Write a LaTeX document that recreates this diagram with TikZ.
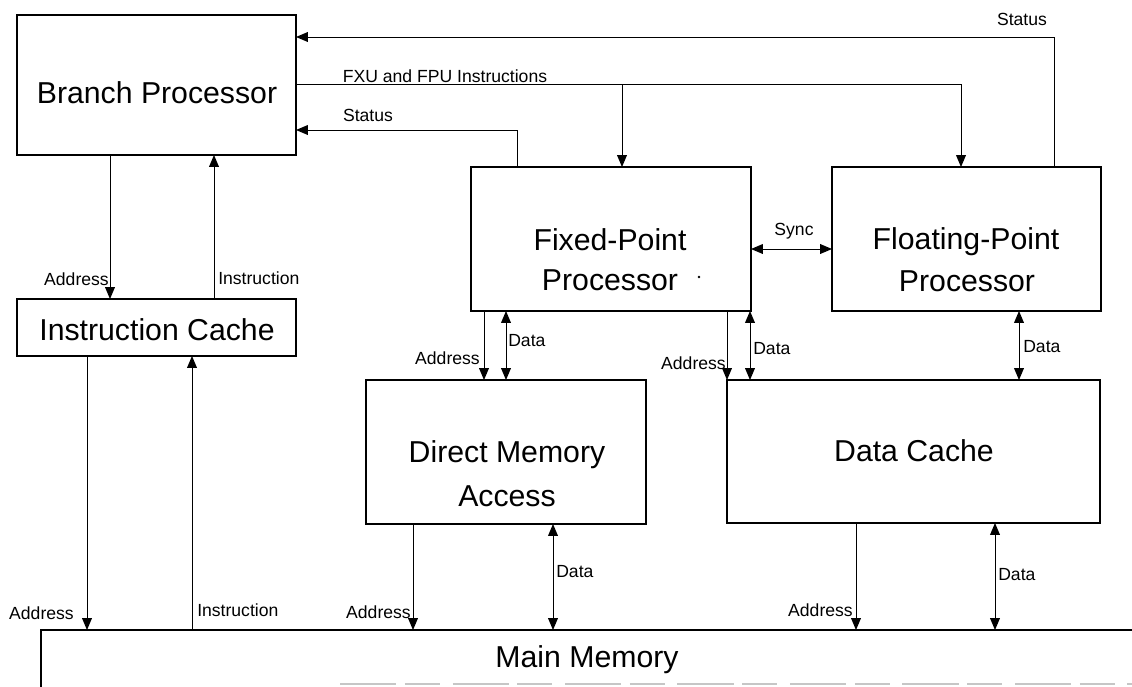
\documentclass[tikz,border=0pt]{standalone}
\usepackage{fontspec}
\setmainfont{Liberation Sans}
\usetikzlibrary{arrows.meta,fit}

\begin{document}
\begin{tikzpicture}[x=0.025cm,y=-0.025cm,
  unit/.style={draw,line width=1.2pt,inner sep=0pt,outer sep=0pt},
  title/.style={font=\fontsize{21.5}{26}\selectfont,anchor=base,inner sep=0pt},
  lbl/.style={font=\fontsize{12.5}{15}\selectfont,inner sep=0pt},
  wire/.style={line width=0.7pt},
  tip/.tip={Triangle[length=8.5pt,width=7pt]},
  arr/.style={wire,-tip},
  barr/.style={wire,tip-tip},
]
\useasboundingbox (0,0) rectangle (1132,686);
\clip (0,0) rectangle (1132,686);

% functional units
\node[unit,fit={(17,15) (296,155)}] (bp) {};
\node[unit,fit={(17,299) (296,356)}] (ic) {};
\node[unit,fit={(471,167) (751,311)}] (fxp) {};
\node[unit,fit={(832,167) (1101,311)}] (fpp) {};
\node[unit,fit={(366,380) (646,524)}] (dma) {};
\node[unit,fit={(727,380) (1100,523)}] (dc) {};
\node[unit,fit={(41,630) (1170,730)}] (mm) {};
\draw[gray!45,line width=0.8pt,dash pattern=on 40pt off 6pt on 25pt off 9pt] (340,684) -- (1132,684);

% unit names
\node[title] (bpt) at (157,103) {Branch Processor};
\node[title] (ict) at (157,340) {Instruction Cache};
\node[title] (fxpt1) at (610,250) {Fixed-Point};
\node[title] (fxpt2) at (610,290) {Processor};
\fill (699,277) circle (1.4);
\node[title] (fppt1) at (966,249) {Floating-Point};
\node[title] (fppt2) at (967,291) {Processor};
\node[title] (dmat1) at (507,462) {Direct Memory};
\node[title] (dmat2) at (507,506) {Access};
\node[title] (dct) at (914,461) {Data Cache};
\node[title] (mmt) at (587,667) {Main Memory};

% instruction dispatch and status feedback
\draw[arr] (1054,0 |- fpp.north) |- (bp.east |- 0,37);
\coordinate (tap) at (622,84);
\draw[arr] (bp.east |- 0,84) -| (961,0 |- fpp.north);
\draw[arr] (tap) -- (tap |- fxp.north);
\draw[arr] (517,0 |- fxp.north) |- (bp.east |- 0,130);
\draw[barr] (fxp.east |- 0,249) -- (fpp.west |- 0,249);

% instruction path
\draw[arr] (110,0 |- bp.south) -- (110,0 |- ic.north);
\draw[arr] (214,0 |- ic.north) -- (214,0 |- bp.south);
\draw[arr] (87,0 |- ic.south) -- (87,0 |- mm.north);
\draw[arr] (192,0 |- mm.north) -- (192,0 |- ic.south);

% data path
\draw[arr] (484,0 |- fxp.south) -- (484,0 |- dma.north);
\draw[barr] (506,0 |- fxp.south) -- (506,0 |- dma.north);
\draw[arr] (727,0 |- fxp.south) -- (727,0 |- dc.north);
\draw[barr] (750,0 |- fxp.south) -- (750,0 |- dc.north);
\draw[barr] (1019,0 |- fpp.south) -- (1019,0 |- dc.north);
\draw[arr] (413,0 |- dma.south) -- (413,0 |- mm.north);
\draw[barr] (553,0 |- dma.south) -- (553,0 |- mm.north);
\draw[arr] (856,0 |- dc.south) -- (856,0 |- mm.north);
\draw[barr] (995,0 |- dc.south) -- (995,0 |- mm.north);

% signal labels
\node[lbl,anchor=base] (l1) at (1022,25) {Status};
\node[lbl,anchor=base] (l2) at (445,82) {FXU and FPU Instructions};
\node[lbl,anchor=base] (l3) at (368,121) {Status};
\node[lbl,anchor=base] (l4) at (794,235) {Sync};
\node[lbl,anchor=base east] (l5) at (109,285) {Address};
\node[lbl,anchor=base west] (l6) at (218,284) {Instruction};
\node[lbl,anchor=base east] (l7) at (74,619) {Address};
\node[lbl,anchor=base west] (l8) at (197,616) {Instruction};
\node[lbl,anchor=base west] (l9) at (508,346) {Data};
\node[lbl,anchor=base east] (l10) at (480,364) {Address};
\node[lbl,anchor=base west] (l11) at (753,354) {Data};
\node[lbl,anchor=base east] (l12) at (726,369) {Address};
\node[lbl,anchor=base west] (l13) at (1023,352) {Data};
\node[lbl,anchor=base east] (l14) at (411,618) {Address};
\node[lbl,anchor=base west] (l15) at (556,577) {Data};
\node[lbl,anchor=base east] (l16) at (853,616) {Address};
\node[lbl,anchor=base west] (l17) at (998,580) {Data};
\end{tikzpicture}
\end{document}
